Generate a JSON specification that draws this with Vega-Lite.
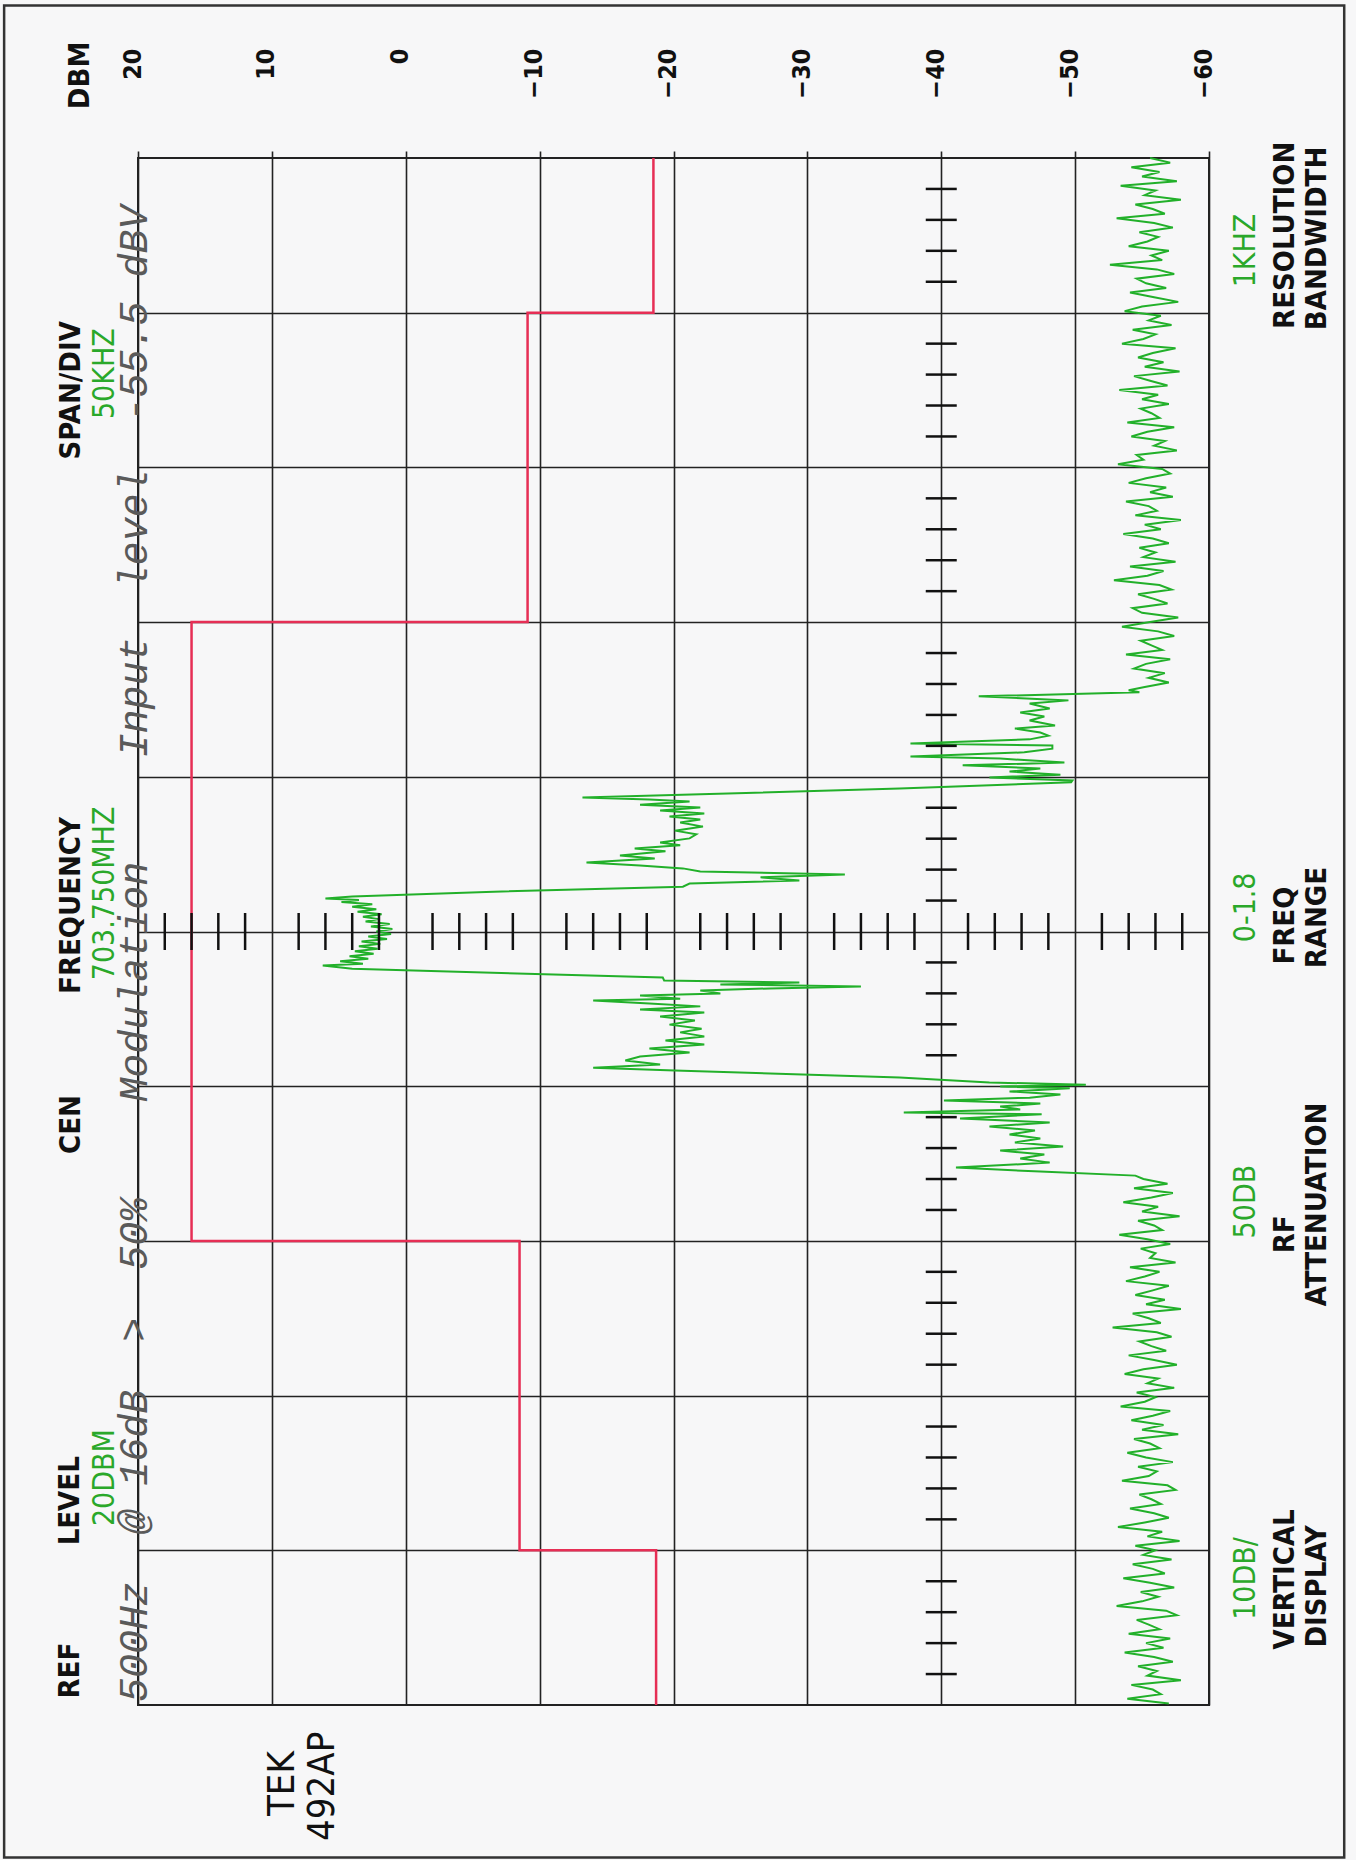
{
  "$schema": "https://vega.github.io/schema/vega-lite/v6.json",
  "width": 1071,
  "height": 1547,
  "autosize": {"type": "none"},
  "padding": {"left": 138, "top": 158, "right": 147, "bottom": 155},
  "background": "#f7f7f8",
  "view": {"stroke": "#222", "strokeWidth": 2},
  "encoding": {
    "x": {"field": "dbm", "type": "quantitative", "scale": {"domain": [-60, 20], "reverse": true, "nice": false, "zero": false},
      "axis": {"orient": "top", "values": [20, 10, 0, -10, -20, -30, -40, -50, -60], "title": null, "grid": true, "gridColor": "#222", "gridWidth": 1.6, "domain": false, "ticks": true, "tickSize": 7, "tickColor": "#222", "tickWidth": 1.6, "labelAngle": -90, "labelAlign": "right", "labelBaseline": "middle", "labelPadding": 103, "labelOffset": -6, "labelFlush": false, "labelOverlap": false, "labelBound": false, "labelFont": "DejaVu Sans Condensed, DejaVu Sans, sans-serif", "labelFontWeight": "bold", "labelFontSize": 25, "labelColor": "#111"}},
    "y": {"field": "khz", "type": "quantitative", "scale": {"domain": [-250, 250], "reverse": true, "nice": false, "zero": false},
      "axis": {"orient": "left", "values": [-200, -150, -100, -50, 0, 50, 100, 150, 200], "title": null, "grid": true, "gridColor": "#222", "gridWidth": 1.6, "domain": false, "ticks": false, "labels": false}}
  },
  "layer": [
    {
      "data": {"values": [{"dbm": 30, "dbm2": -70.1, "khz": -299.3, "khz2": 299.3}]},
      "mark": {"type": "rect", "filled": false, "stroke": "#333", "strokeWidth": 2.5, "clip": false},
      "encoding": {"x2": {"field": "dbm2"}, "y2": {"field": "khz2"}}
    },
    {
      "data": {"values": [
        {"seq": 1, "khz": -250, "dbm": -18.5}, {"seq": 2, "khz": -200, "dbm": -18.5}, {"seq": 3, "khz": -200, "dbm": -9.1},
        {"seq": 4, "khz": -100, "dbm": -9.1}, {"seq": 5, "khz": -100, "dbm": 16}, {"seq": 6, "khz": 100, "dbm": 16},
        {"seq": 7, "khz": 100, "dbm": -8.5}, {"seq": 8, "khz": 200, "dbm": -8.5}, {"seq": 9, "khz": 200, "dbm": -18.7},
        {"seq": 10, "khz": 250, "dbm": -18.7}
      ]},
      "mark": {"type": "line", "color": "#e62e55", "strokeWidth": 2.5},
      "encoding": {"order": {"field": "seq", "type": "quantitative"}}
    },
    {
      "data": {"values": [
        {"khz": -250, "dbm": -55.6}, {"khz": -248.5, "dbm": -57.1}, {"khz": -247, "dbm": -54.2}, {"khz": -245.5, "dbm": -56.3}, {"khz": -244, "dbm": -55.0},
        {"khz": -242.5, "dbm": -57.6}, {"khz": -241, "dbm": -53.4}, {"khz": -239.5, "dbm": -56.0}, {"khz": -238, "dbm": -55.2}, {"khz": -236.5, "dbm": -57.9},
        {"khz": -235, "dbm": -54.5}, {"khz": -233.5, "dbm": -55.8}, {"khz": -232, "dbm": -56.7}, {"khz": -230.5, "dbm": -53.1}, {"khz": -229, "dbm": -55.9},
        {"khz": -227.5, "dbm": -57.3}, {"khz": -226, "dbm": -54.8}, {"khz": -224.5, "dbm": -56.2}, {"khz": -223, "dbm": -55.4}, {"khz": -221.5, "dbm": -54.0},
        {"khz": -220, "dbm": -57.0}, {"khz": -218.5, "dbm": -55.7}, {"khz": -217, "dbm": -56.5}, {"khz": -215.5, "dbm": -52.6}, {"khz": -214, "dbm": -56.1},
        {"khz": -212.5, "dbm": -57.4}, {"khz": -211, "dbm": -54.6}, {"khz": -209.5, "dbm": -55.3}, {"khz": -208, "dbm": -56.8}, {"khz": -206.5, "dbm": -54.1},
        {"khz": -205, "dbm": -55.9}, {"khz": -203.5, "dbm": -57.7}, {"khz": -202, "dbm": -55.0}, {"khz": -200.5, "dbm": -53.7}, {"khz": -199, "dbm": -56.4},
        {"khz": -197.5, "dbm": -55.5}, {"khz": -196, "dbm": -57.2}, {"khz": -194.5, "dbm": -54.3}, {"khz": -193, "dbm": -56.0}, {"khz": -191.5, "dbm": -55.1},
        {"khz": -190, "dbm": -53.5}, {"khz": -188.5, "dbm": -57.5}, {"khz": -187, "dbm": -55.8}, {"khz": -185.5, "dbm": -54.7}, {"khz": -184, "dbm": -56.6},
        {"khz": -182.5, "dbm": -55.2}, {"khz": -181, "dbm": -57.8}, {"khz": -179.5, "dbm": -54.4}, {"khz": -178, "dbm": -55.6}, {"khz": -176.5, "dbm": -56.9},
        {"khz": -175, "dbm": -53.3}, {"khz": -173.5, "dbm": -56.2}, {"khz": -172, "dbm": -55.0}, {"khz": -170.5, "dbm": -57.0}, {"khz": -169, "dbm": -54.9},
        {"khz": -167.5, "dbm": -55.7}, {"khz": -166, "dbm": -56.3}, {"khz": -164.5, "dbm": -53.9}, {"khz": -163, "dbm": -57.4}, {"khz": -161.5, "dbm": -55.4},
        {"khz": -160, "dbm": -54.2}, {"khz": -158.5, "dbm": -56.7}, {"khz": -157, "dbm": -55.9}, {"khz": -155.5, "dbm": -57.6}, {"khz": -154, "dbm": -54.6},
        {"khz": -152.5, "dbm": -55.1}, {"khz": -151, "dbm": -53.2}, {"khz": -149.5, "dbm": -56.5}, {"khz": -148, "dbm": -57.1}, {"khz": -146.5, "dbm": -55.3},
        {"khz": -145, "dbm": -54.0}, {"khz": -143.5, "dbm": -56.8}, {"khz": -142, "dbm": -55.6}, {"khz": -140.5, "dbm": -57.3}, {"khz": -139, "dbm": -53.8},
        {"khz": -137.5, "dbm": -55.5}, {"khz": -136, "dbm": -56.1}, {"khz": -134.5, "dbm": -54.5}, {"khz": -133, "dbm": -57.9}, {"khz": -131.5, "dbm": -55.2},
        {"khz": -130, "dbm": -56.4}, {"khz": -128.5, "dbm": -53.6}, {"khz": -127, "dbm": -55.8}, {"khz": -125.5, "dbm": -57.0}, {"khz": -124, "dbm": -54.8},
        {"khz": -122.5, "dbm": -56.0}, {"khz": -121, "dbm": -55.1}, {"khz": -119.5, "dbm": -57.5}, {"khz": -118, "dbm": -54.1}, {"khz": -116.5, "dbm": -56.6},
        {"khz": -115, "dbm": -55.4}, {"khz": -113.5, "dbm": -52.9}, {"khz": -112, "dbm": -56.3}, {"khz": -110.5, "dbm": -57.2}, {"khz": -109, "dbm": -54.7},
        {"khz": -107.5, "dbm": -55.9}, {"khz": -106, "dbm": -56.9}, {"khz": -104.5, "dbm": -54.3}, {"khz": -103, "dbm": -55.0}, {"khz": -101.5, "dbm": -57.7},
        {"khz": -100, "dbm": -55.6}, {"khz": -98.5, "dbm": -53.5}, {"khz": -97, "dbm": -56.2}, {"khz": -95.5, "dbm": -57.4}, {"khz": -94, "dbm": -54.9},
        {"khz": -92.5, "dbm": -55.7}, {"khz": -91, "dbm": -56.5}, {"khz": -89.5, "dbm": -53.8}, {"khz": -88, "dbm": -57.1}, {"khz": -86.5, "dbm": -55.3},
        {"khz": -85, "dbm": -54.4}, {"khz": -83.5, "dbm": -56.7}, {"khz": -82, "dbm": -55.5}, {"khz": -80.5, "dbm": -57.0},
        {"khz": -79, "dbm": -55.2}, {"khz": -78, "dbm": -54.0}, {"khz": -77.3, "dbm": -54.8},
        {"khz": -76, "dbm": -42.8}, {"khz": -74.7, "dbm": -49.5}, {"khz": -73.7, "dbm": -46.6}, {"khz": -72.1, "dbm": -48.1}, {"khz": -70.8, "dbm": -45.9},
        {"khz": -69.5, "dbm": -47.7}, {"khz": -68.2, "dbm": -46.6}, {"khz": -66.6, "dbm": -48.5}, {"khz": -65.6, "dbm": -45.5}, {"khz": -64.3, "dbm": -47.4},
        {"khz": -63.3, "dbm": -48.0}, {"khz": -62.1, "dbm": -46.6}, {"khz": -60.8, "dbm": -37.7}, {"khz": -60.1, "dbm": -48.3}, {"khz": -59.1, "dbm": -48.3},
        {"khz": -57.9, "dbm": -46.2}, {"khz": -56.6, "dbm": -37.7}, {"khz": -55.9, "dbm": -44.4}, {"khz": -54.6, "dbm": -49.2}, {"khz": -53.7, "dbm": -41.6},
        {"khz": -52.7, "dbm": -47.4}, {"khz": -51.7, "dbm": -45.1}, {"khz": -50.7, "dbm": -48.9}, {"khz": -49.8, "dbm": -43.6}, {"khz": -48.8, "dbm": -49.8},
        {"khz": -48.2, "dbm": -49.7}, {"khz": -46.2, "dbm": -36.9}, {"khz": -43.3, "dbm": -13.2},
        {"khz": -42.7, "dbm": -18.2}, {"khz": -42.0, "dbm": -21.2}, {"khz": -41.0, "dbm": -17.5}, {"khz": -40.1, "dbm": -22.0}, {"khz": -39.1, "dbm": -19.0},
        {"khz": -38.1, "dbm": -22.3}, {"khz": -37.2, "dbm": -19.7}, {"khz": -36.2, "dbm": -22.0}, {"khz": -35.2, "dbm": -20.5}, {"khz": -33.9, "dbm": -22.2},
        {"khz": -32.6, "dbm": -20.1}, {"khz": -31.4, "dbm": -21.7}, {"khz": -30.1, "dbm": -21.2}, {"khz": -28.8, "dbm": -19.0}, {"khz": -27.9, "dbm": -20.5},
        {"khz": -26.8, "dbm": -17.1}, {"khz": -25.9, "dbm": -19.4}, {"khz": -24.6, "dbm": -16.0}, {"khz": -23.6, "dbm": -18.6}, {"khz": -22.3, "dbm": -13.5},
        {"khz": -21.3, "dbm": -17.5}, {"khz": -20.4, "dbm": -20.7}, {"khz": -19.4, "dbm": -22.0}, {"khz": -18.4, "dbm": -32.8}, {"khz": -17.5, "dbm": -26.5},
        {"khz": -16.5, "dbm": -29.4}, {"khz": -15.5, "dbm": -21.2}, {"khz": -14.5, "dbm": -20.7}, {"khz": -12.8, "dbm": -6.0}, {"khz": -11.3, "dbm": 4.0},
        {"khz": -10.7, "dbm": 6.0}, {"khz": -10.2, "dbm": 3.5}, {"khz": -9.5, "dbm": 4.8}, {"khz": -8.8, "dbm": 2.5}, {"khz": -8.0, "dbm": 4.0},
        {"khz": -7.2, "dbm": 2.2}, {"khz": -6.4, "dbm": 3.6}, {"khz": -5.6, "dbm": 1.8}, {"khz": -4.8, "dbm": 3.2}, {"khz": -4.0, "dbm": 2.0},
        {"khz": -3.2, "dbm": 3.0}, {"khz": -2.4, "dbm": 1.2}, {"khz": -1.6, "dbm": 2.6}, {"khz": -0.8, "dbm": 1.0}, {"khz": 0, "dbm": 2.2},
        {"khz": 0.8, "dbm": 1.1}, {"khz": 1.6, "dbm": 2.8}, {"khz": 2.4, "dbm": 1.4}, {"khz": 3.2, "dbm": 3.3}, {"khz": 4.0, "dbm": 1.9},
        {"khz": 4.8, "dbm": 3.5}, {"khz": 5.6, "dbm": 2.1}, {"khz": 6.4, "dbm": 3.8}, {"khz": 7.2, "dbm": 2.4}, {"khz": 8.0, "dbm": 4.2},
        {"khz": 8.8, "dbm": 2.8}, {"khz": 9.6, "dbm": 4.9}, {"khz": 10.4, "dbm": 3.2}, {"khz": 11.0, "dbm": 6.2}, {"khz": 12.0, "dbm": 4.0},
        {"khz": 14.9, "dbm": -19.2}, {"khz": 15.8, "dbm": -19.3}, {"khz": 16.5, "dbm": -29.4}, {"khz": 17.1, "dbm": -23.5}, {"khz": 17.8, "dbm": -34.0},
        {"khz": 18.4, "dbm": -27.2}, {"khz": 19.1, "dbm": -22.0}, {"khz": 20.0, "dbm": -23.5}, {"khz": 20.7, "dbm": -17.5}, {"khz": 21.7, "dbm": -20.5},
        {"khz": 22.3, "dbm": -14.0}, {"khz": 23.3, "dbm": -18.2}, {"khz": 24.2, "dbm": -22.0}, {"khz": 25.2, "dbm": -17.5}, {"khz": 26.2, "dbm": -22.3},
        {"khz": 27.5, "dbm": -19.0}, {"khz": 28.8, "dbm": -21.6}, {"khz": 30.1, "dbm": -19.7}, {"khz": 31.4, "dbm": -22.1}, {"khz": 32.6, "dbm": -20.5},
        {"khz": 33.9, "dbm": -22.3}, {"khz": 35.2, "dbm": -19.4}, {"khz": 36.5, "dbm": -22.3}, {"khz": 37.8, "dbm": -18.2}, {"khz": 39.1, "dbm": -21.2},
        {"khz": 40.4, "dbm": -17.5}, {"khz": 41.7, "dbm": -16.4}, {"khz": 43.0, "dbm": -19.0}, {"khz": 44.0, "dbm": -14.0}, {"khz": 44.9, "dbm": -20.1},
        {"khz": 47.2, "dbm": -36.9}, {"khz": 48.8, "dbm": -43.6},
        {"khz": 49.5, "dbm": -50.8}, {"khz": 50.1, "dbm": -44.4}, {"khz": 50.7, "dbm": -49.6}, {"khz": 51.7, "dbm": -45.1}, {"khz": 52.7, "dbm": -48.9},
        {"khz": 53.7, "dbm": -46.6}, {"khz": 54.6, "dbm": -40.2}, {"khz": 55.6, "dbm": -47.4}, {"khz": 56.6, "dbm": -44.4}, {"khz": 57.5, "dbm": -45.9},
        {"khz": 58.5, "dbm": -37.2}, {"khz": 59.1, "dbm": -47.5}, {"khz": 60.4, "dbm": -41.4}, {"khz": 61.7, "dbm": -48.1}, {"khz": 63.0, "dbm": -43.6},
        {"khz": 64.3, "dbm": -47.0}, {"khz": 65.6, "dbm": -45.1}, {"khz": 66.9, "dbm": -47.4}, {"khz": 68.2, "dbm": -45.5}, {"khz": 69.5, "dbm": -49.1},
        {"khz": 70.8, "dbm": -44.4}, {"khz": 72.1, "dbm": -47.7}, {"khz": 73.4, "dbm": -45.9}, {"khz": 74.7, "dbm": -48.1}, {"khz": 76.3, "dbm": -41.1},
        {"khz": 77.6, "dbm": -47.4}, {"khz": 78.9, "dbm": -54.5},
        {"khz": 80, "dbm": -55.1}, {"khz": 81.5, "dbm": -56.9}, {"khz": 83, "dbm": -54.4}, {"khz": 84.5, "dbm": -57.3}, {"khz": 86, "dbm": -55.7},
        {"khz": 87.5, "dbm": -53.6}, {"khz": 89, "dbm": -56.2}, {"khz": 90.5, "dbm": -55.0}, {"khz": 92, "dbm": -57.8}, {"khz": 93.5, "dbm": -54.7},
        {"khz": 95, "dbm": -55.9}, {"khz": 96.5, "dbm": -56.5}, {"khz": 98, "dbm": -53.3}, {"khz": 99.5, "dbm": -55.4}, {"khz": 101, "dbm": -57.1},
        {"khz": 102.5, "dbm": -54.9}, {"khz": 104, "dbm": -56.0}, {"khz": 105.5, "dbm": -55.6}, {"khz": 107, "dbm": -57.5}, {"khz": 108.5, "dbm": -54.1},
        {"khz": 110, "dbm": -56.3}, {"khz": 111.5, "dbm": -55.2}, {"khz": 113, "dbm": -53.8}, {"khz": 114.5, "dbm": -57.0}, {"khz": 116, "dbm": -55.8},
        {"khz": 117.5, "dbm": -54.5}, {"khz": 119, "dbm": -56.7}, {"khz": 120.5, "dbm": -55.3}, {"khz": 122, "dbm": -57.9}, {"khz": 123.5, "dbm": -54.3},
        {"khz": 125, "dbm": -55.5}, {"khz": 126.5, "dbm": -56.4}, {"khz": 128, "dbm": -52.8}, {"khz": 129.5, "dbm": -56.1}, {"khz": 131, "dbm": -57.2},
        {"khz": 132.5, "dbm": -54.8}, {"khz": 134, "dbm": -55.7}, {"khz": 135.5, "dbm": -56.8}, {"khz": 137, "dbm": -54.0}, {"khz": 138.5, "dbm": -55.9},
        {"khz": 140, "dbm": -57.6}, {"khz": 141.5, "dbm": -55.1}, {"khz": 143, "dbm": -53.7}, {"khz": 144.5, "dbm": -56.2}, {"khz": 146, "dbm": -55.4},
        {"khz": 147.5, "dbm": -57.4}, {"khz": 149, "dbm": -54.6}, {"khz": 150.5, "dbm": -56.0}, {"khz": 152, "dbm": -55.2}, {"khz": 153.5, "dbm": -53.4},
        {"khz": 155, "dbm": -57.1}, {"khz": 156.5, "dbm": -55.8}, {"khz": 158, "dbm": -54.2}, {"khz": 159.5, "dbm": -56.6}, {"khz": 161, "dbm": -55.0},
        {"khz": 162.5, "dbm": -57.7}, {"khz": 164, "dbm": -54.4}, {"khz": 165.5, "dbm": -55.6}, {"khz": 167, "dbm": -56.3}, {"khz": 168.5, "dbm": -53.9},
        {"khz": 170, "dbm": -55.3}, {"khz": 171.5, "dbm": -57.3}, {"khz": 173, "dbm": -54.7}, {"khz": 174.5, "dbm": -56.1}, {"khz": 176, "dbm": -55.5},
        {"khz": 177.5, "dbm": -53.5}, {"khz": 179, "dbm": -56.9}, {"khz": 180.5, "dbm": -57.5}, {"khz": 182, "dbm": -54.8}, {"khz": 183.5, "dbm": -55.7},
        {"khz": 185, "dbm": -56.4}, {"khz": 186.5, "dbm": -54.1}, {"khz": 188, "dbm": -55.9}, {"khz": 189.5, "dbm": -57.0}, {"khz": 191, "dbm": -55.2},
        {"khz": 192.5, "dbm": -53.2}, {"khz": 194, "dbm": -56.5}, {"khz": 195.5, "dbm": -55.4}, {"khz": 197, "dbm": -57.8}, {"khz": 198.5, "dbm": -54.5},
        {"khz": 200, "dbm": -56.0}, {"khz": 201.5, "dbm": -55.1}, {"khz": 203, "dbm": -57.2}, {"khz": 204.5, "dbm": -54.3}, {"khz": 206, "dbm": -55.8},
        {"khz": 207.5, "dbm": -56.7}, {"khz": 209, "dbm": -53.6}, {"khz": 210.5, "dbm": -55.6}, {"khz": 212, "dbm": -57.4}, {"khz": 213.5, "dbm": -54.9},
        {"khz": 215, "dbm": -56.2}, {"khz": 216.5, "dbm": -55.0}, {"khz": 218, "dbm": -53.1}, {"khz": 219.5, "dbm": -56.8}, {"khz": 221, "dbm": -57.6},
        {"khz": 222.5, "dbm": -54.6}, {"khz": 224, "dbm": -55.5}, {"khz": 225.5, "dbm": -56.3}, {"khz": 227, "dbm": -54.0}, {"khz": 228.5, "dbm": -57.1},
        {"khz": 230, "dbm": -55.3}, {"khz": 231.5, "dbm": -56.6}, {"khz": 233, "dbm": -53.7}, {"khz": 234.5, "dbm": -55.9}, {"khz": 236, "dbm": -57.3},
        {"khz": 237.5, "dbm": -54.7}, {"khz": 239, "dbm": -56.1}, {"khz": 240.5, "dbm": -55.4}, {"khz": 242, "dbm": -57.9}, {"khz": 243.5, "dbm": -54.2},
        {"khz": 245, "dbm": -55.8}, {"khz": 246.5, "dbm": -56.4}, {"khz": 248, "dbm": -53.9}, {"khz": 249.5, "dbm": -57.0}
      ]},
      "mark": {"type": "line", "color": "#22b02a", "strokeWidth": 2, "strokeJoin": "miter"},
      "encoding": {"order": {"field": "khz", "type": "quantitative"}}
    },
    {
      "data": {"values": [
        {"dbm": 18, "khz": 0}, {"dbm": 16, "khz": 0}, {"dbm": 14, "khz": 0}, {"dbm": 12, "khz": 0}, {"dbm": 8, "khz": 0}, {"dbm": 6, "khz": 0},
        {"dbm": 4, "khz": 0}, {"dbm": 2, "khz": 0}, {"dbm": -2, "khz": 0}, {"dbm": -4, "khz": 0}, {"dbm": -6, "khz": 0}, {"dbm": -8, "khz": 0},
        {"dbm": -12, "khz": 0}, {"dbm": -14, "khz": 0}, {"dbm": -16, "khz": 0}, {"dbm": -18, "khz": 0}, {"dbm": -22, "khz": 0}, {"dbm": -24, "khz": 0},
        {"dbm": -26, "khz": 0}, {"dbm": -28, "khz": 0}, {"dbm": -32, "khz": 0}, {"dbm": -34, "khz": 0}, {"dbm": -36, "khz": 0}, {"dbm": -38, "khz": 0},
        {"dbm": -42, "khz": 0}, {"dbm": -44, "khz": 0}, {"dbm": -46, "khz": 0}, {"dbm": -48, "khz": 0}, {"dbm": -52, "khz": 0}, {"dbm": -54, "khz": 0},
        {"dbm": -56, "khz": 0}, {"dbm": -58, "khz": 0}
      ]},
      "mark": {"type": "tick", "orient": "vertical", "size": 37, "thickness": 2.5, "color": "#111", "opacity": 1}
    },
    {
      "data": {"values": [
        {"dbm": -40, "khz": -240}, {"dbm": -40, "khz": -230}, {"dbm": -40, "khz": -220}, {"dbm": -40, "khz": -210},
        {"dbm": -40, "khz": -190}, {"dbm": -40, "khz": -180}, {"dbm": -40, "khz": -170}, {"dbm": -40, "khz": -160},
        {"dbm": -40, "khz": -140}, {"dbm": -40, "khz": -130}, {"dbm": -40, "khz": -120}, {"dbm": -40, "khz": -110},
        {"dbm": -40, "khz": -90}, {"dbm": -40, "khz": -80}, {"dbm": -40, "khz": -70}, {"dbm": -40, "khz": -60},
        {"dbm": -40, "khz": -40}, {"dbm": -40, "khz": -30}, {"dbm": -40, "khz": -20}, {"dbm": -40, "khz": -10},
        {"dbm": -40, "khz": 10}, {"dbm": -40, "khz": 20}, {"dbm": -40, "khz": 30}, {"dbm": -40, "khz": 40},
        {"dbm": -40, "khz": 60}, {"dbm": -40, "khz": 70}, {"dbm": -40, "khz": 80}, {"dbm": -40, "khz": 90},
        {"dbm": -40, "khz": 110}, {"dbm": -40, "khz": 120}, {"dbm": -40, "khz": 130}, {"dbm": -40, "khz": 140},
        {"dbm": -40, "khz": 160}, {"dbm": -40, "khz": 170}, {"dbm": -40, "khz": 180}, {"dbm": -40, "khz": 190},
        {"dbm": -40, "khz": 210}, {"dbm": -40, "khz": 220}, {"dbm": -40, "khz": 230}, {"dbm": -40, "khz": 240}
      ]},
      "mark": {"type": "tick", "orient": "horizontal", "size": 31, "thickness": 2.5, "color": "#111", "opacity": 1}
    },
    {
      "data": {"values": [
        {"label": "DBM", "dbm": 24.3, "khz": -276.7},
        {"label": "REF", "dbm": 25.1, "khz": 238.9},
        {"label": "LEVEL", "dbm": 25.1, "khz": 184},
        {"label": "CEN", "dbm": 25.0, "khz": 62.4},
        {"label": "FREQUENCY", "dbm": 25.0, "khz": -8.4},
        {"label": "SPAN/DIV", "dbm": 25.0, "khz": -174.9},
        {"label": "RESOLUTION", "dbm": -65.7, "khz": -225},
        {"label": "BANDWIDTH", "dbm": -68.1, "khz": -224},
        {"label": "FREQ", "dbm": -65.7, "khz": -1.9},
        {"label": "RANGE", "dbm": -68.1, "khz": -4.5},
        {"label": "RF", "dbm": -65.7, "khz": 97.9},
        {"label": "ATTENUATION", "dbm": -68.1, "khz": 88.2},
        {"label": "VERTICAL", "dbm": -65.7, "khz": 209.4},
        {"label": "DISPLAY", "dbm": -68.1, "khz": 211.7}
      ]},
      "mark": {"type": "text", "angle": 270, "align": "center", "baseline": "middle", "font": "DejaVu Sans Condensed, DejaVu Sans, sans-serif", "fontWeight": "bold", "fontSize": 29, "color": "#111", "clip": false},
      "encoding": {"text": {"field": "label"}}
    },
    {
      "data": {"values": [
        {"label": "20DBM", "dbm": 22.5, "khz": 176.5},
        {"label": "703.750MHZ", "dbm": 22.5, "khz": -12.3},
        {"label": "50KHZ", "dbm": 22.5, "khz": -180.3},
        {"label": "1KHZ", "dbm": -62.8, "khz": -220.1},
        {"label": "0-1.8", "dbm": -62.8, "khz": -7.8},
        {"label": "50DB", "dbm": -62.8, "khz": 87.3},
        {"label": "10DB/", "dbm": -62.8, "khz": 209.1}
      ]},
      "mark": {"type": "text", "angle": 270, "align": "center", "baseline": "middle", "font": "DejaVu Sans Condensed, DejaVu Sans, sans-serif", "fontWeight": "normal", "fontSize": 30, "color": "#2aa82a", "clip": false},
      "encoding": {"text": {"field": "label"}}
    },
    {
      "data": {"values": [
        {"label": "TEK", "dbm": 9.2, "khz": 275.4},
        {"label": "492AP", "dbm": 6.2, "khz": 276.3}
      ]},
      "mark": {"type": "text", "angle": 270, "align": "center", "baseline": "middle", "font": "DejaVu Sans Condensed, DejaVu Sans, sans-serif", "fontWeight": "normal", "fontSize": 38, "color": "#111", "clip": false},
      "encoding": {"text": {"field": "label"}}
    },
    {
      "data": {"values": [
        {"label": "500Hz\u00a0 @ 16dB\u00a0 >\u00a0 50%\u00a0\u00a0\u00a0 Modulation", "dbm": 19.35, "khz": 249},
        {"label": "Input\u00a0 level\u00a0 -55.5 dBV", "dbm": 19.35, "khz": -56.2}
      ]},
      "mark": {"type": "text", "angle": 270, "align": "left", "baseline": "alphabetic", "font": "Liberation Mono", "fontStyle": "italic", "fontSize": 40, "color": "#5a5a5a", "clip": false},
      "encoding": {"text": {"field": "label"}}
    }
  ]
}
